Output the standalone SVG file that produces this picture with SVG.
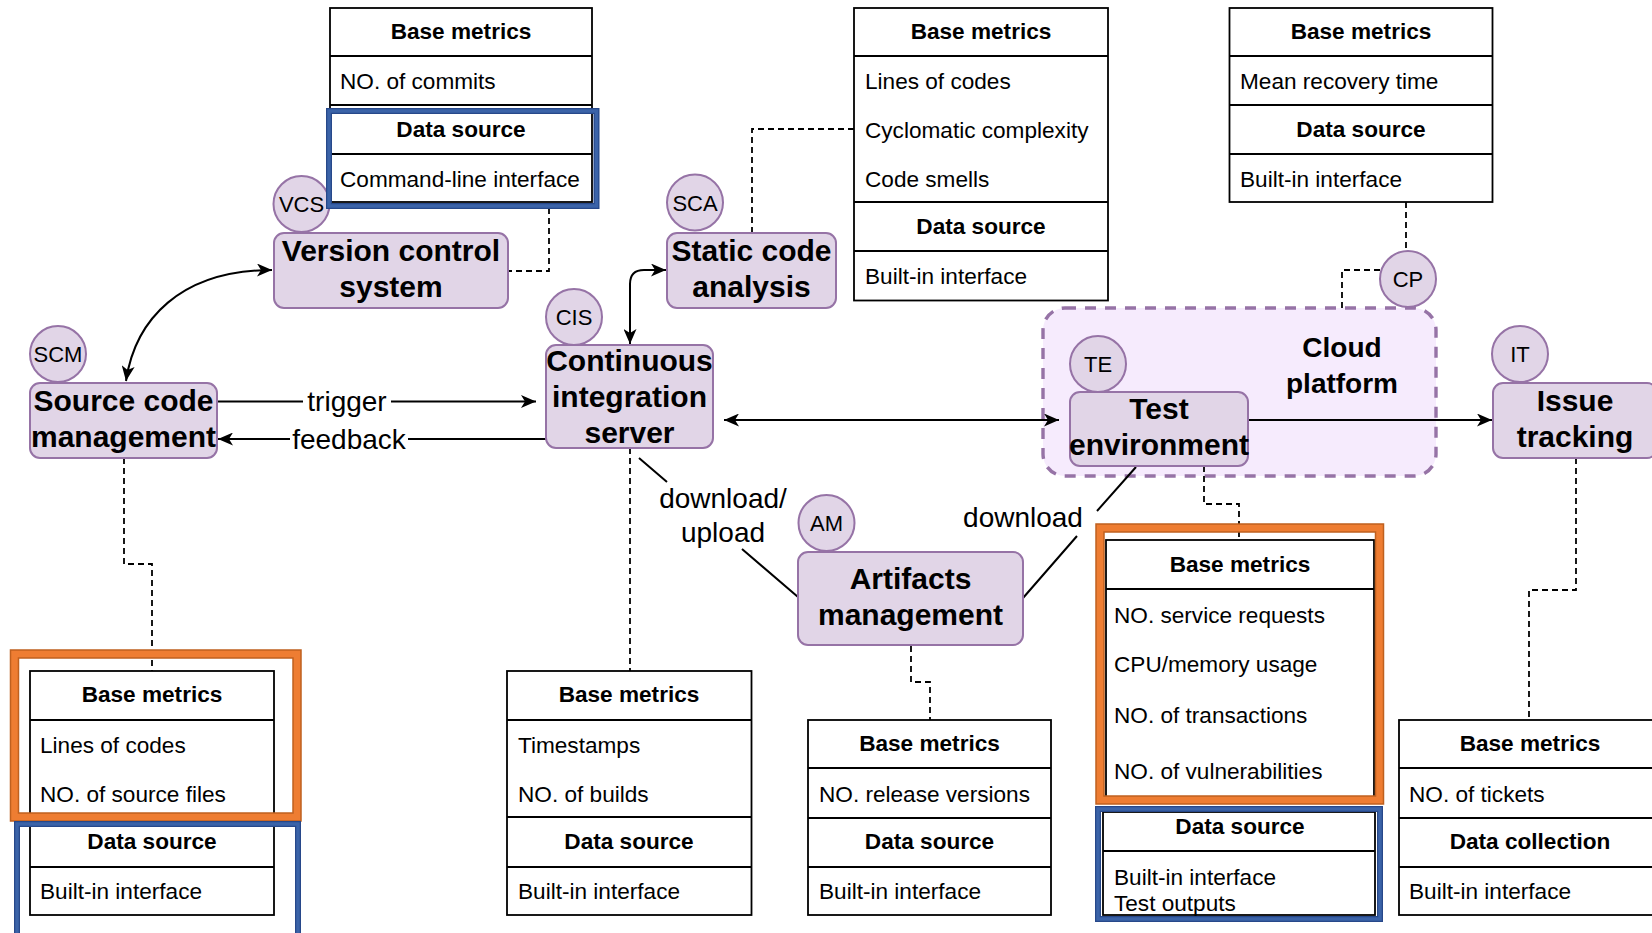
<svg xmlns="http://www.w3.org/2000/svg" width="1652" height="933" viewBox="0 0 1652 933">
  <defs>
    <style>
      text { font-family: "Liberation Sans", Arial, Helvetica, sans-serif; fill: #000; }
      .node { fill: #e1d5e7; stroke: #9673a6; stroke-width: 2; }
      .tag { fill: #e1d5e7; stroke: #9673a6; stroke-width: 2; }
      .lbl { font-size: 30px; font-weight: bold; text-anchor: middle; }
      .tagt { font-size: 22px; text-anchor: middle; }
      .tbl { fill: #fff; stroke: #000; stroke-width: 1.8; }
      .sep { stroke: #000; stroke-width: 1.8; }
      .th { font-size: 22.6px; font-weight: bold; text-anchor: middle; }
      .td { font-size: 22.6px; }
      .edge { fill: none; stroke: #000; stroke-width: 2; }
      .dash { fill: none; stroke: #000; stroke-width: 1.8; stroke-dasharray: 6 4; }
      .elbl { font-size: 28px; text-anchor: middle; }
      .org-o { fill: none; stroke: #bf601f; stroke-width: 9.5; }
      .org-i { fill: none; stroke: #ee7d32; stroke-width: 6.5; }
      .blu-o { fill: none; stroke: #27488a; stroke-width: 6; }
      .blu-i { fill: none; stroke: #3b63a8; stroke-width: 3.5; }
    </style>
    <marker id="arrow" viewBox="0 0 15 13" refX="15" refY="6.5" markerWidth="15" markerHeight="13" markerUnits="userSpaceOnUse" orient="auto-start-reverse">
      <path d="M0,0 L15,6.5 L0,13 L4,6.5 Z" fill="#000"/>
    </marker>
  </defs>

  <rect width="1652" height="933" fill="#fff"/>

  <!-- Cloud platform container -->
  <g id="cloud-platform">
    <rect x="1043" y="308" width="393" height="168" rx="22" fill="#f6ebfd" stroke="#9673a6" stroke-width="3.4" stroke-dasharray="11 9"/>
    <text class="lbl" x="1342" y="357" style="font-size:28px">Cloud</text>
    <text class="lbl" x="1342" y="393" style="font-size:28px">platform</text>
  </g>

  <!-- Connectors -->
  <g id="connectors">
    <path class="edge" d="M126 381 C135 320 180 270 272 270" marker-start="url(#arrow)" marker-end="url(#arrow)"/>
    <path class="edge" d="M630 344 V284 Q630 270 644 270 H666" marker-start="url(#arrow)" marker-end="url(#arrow)"/>
    <path class="edge" d="M217 401.5 H536" marker-end="url(#arrow)"/>
    <rect x="303" y="388" width="88" height="28" fill="#fff"/>
    <text class="elbl" x="347" y="411">trigger</text>
    <path class="edge" d="M546 439 H218" marker-end="url(#arrow)"/>
    <rect x="290" y="425" width="118" height="29" fill="#fff"/>
    <text class="elbl" x="349" y="449">feedback</text>
    <path class="edge" d="M724 420 H1059" marker-start="url(#arrow)" marker-end="url(#arrow)"/>
    <path class="edge" d="M1248 420 H1492" marker-end="url(#arrow)"/>
    <path class="edge" d="M639 458 L667 482 M742 549 L798 597"/>
    <text class="elbl" x="723" y="508">download/</text>
    <text class="elbl" x="723" y="542">upload</text>
    <path class="edge" d="M1136 467 L1097 511 M1077 536 L1023 598"/>
    <text class="elbl" x="1023" y="527">download</text>

    <path class="dash" d="M549 208 V271 H508"/>
    <path class="dash" d="M752 233 V129 H854"/>
    <path class="dash" d="M1406 202 V251"/>
    <path class="dash" d="M1380 270 H1342 V308"/>
    <path class="dash" d="M124 458 V564 H152 V671"/>
    <path class="dash" d="M630 448 V671"/>
    <path class="dash" d="M911 646 V682 H930 V720"/>
    <path class="dash" d="M1204 466 V504 H1239 V540"/>
    <path class="dash" d="M1576 458 V590 H1529 V720"/>
  </g>

  <!-- Version control system -->
  <g id="vcs">
    <rect class="node" x="274" y="233" width="234" height="75" rx="10"/>
    <text class="lbl" x="391" y="260.5">Version control</text>
    <text class="lbl" x="391" y="296.5">system</text>
    <circle class="tag" cx="301.5" cy="204" r="28"/>
    <text class="tagt" x="301.5" y="212">VCS</text>
  </g>
  <g id="vcs-metrics">
    <rect class="tbl" x="330" y="8" width="262" height="194"/>
    <line class="sep" x1="330" y1="56" x2="592" y2="56"/>
    <line class="sep" x1="330" y1="105" x2="592" y2="105"/>
    <line class="sep" x1="330" y1="154" x2="592" y2="154"/>
    <text class="th" x="461" y="39">Base metrics</text>
    <text class="td" x="340" y="89">NO. of commits</text>
    <text class="th" x="461" y="137">Data source</text>
    <text class="td" x="340" y="187">Command-line interface</text>
    <rect class="blu-o" x="329" y="111" width="267.5" height="95"/>
    <rect class="blu-i" x="329" y="111" width="267.5" height="95"/>
  </g>

  <!-- Source code management -->
  <g id="scm">
    <rect class="node" x="30" y="383" width="187" height="75" rx="10"/>
    <text class="lbl" x="123.5" y="410.5">Source code</text>
    <text class="lbl" x="123.5" y="446.5">management</text>
    <circle class="tag" cx="58" cy="354" r="28"/>
    <text class="tagt" x="58" y="362">SCM</text>
  </g>
  <g id="scm-metrics">
    <rect class="tbl" x="30" y="671" width="244" height="244"/>
    <line class="sep" x1="30" y1="720" x2="274" y2="720"/>
    <line class="sep" x1="30" y1="817" x2="274" y2="817"/>
    <line class="sep" x1="30" y1="867" x2="274" y2="867"/>
    <text class="th" x="152" y="702">Base metrics</text>
    <text class="td" x="40" y="752.5">Lines of codes</text>
    <text class="td" x="40" y="801.5">NO. of source files</text>
    <text class="th" x="152" y="849">Data source</text>
    <text class="td" x="40" y="899">Built-in interface</text>
    <rect class="org-o" x="14.5" y="654" width="282.5" height="163"/>
    <rect class="org-i" x="14.5" y="654" width="282.5" height="163"/>
    <rect class="blu-o" x="17" y="824" width="281" height="130"/>
    <rect class="blu-i" x="17" y="824" width="281" height="130"/>
  </g>

  <!-- Continuous integration server -->
  <g id="cis">
    <rect class="node" x="546" y="345" width="167" height="103" rx="10"/>
    <text class="lbl" x="629.5" y="370.5">Continuous</text>
    <text class="lbl" x="629.5" y="406.5">integration</text>
    <text class="lbl" x="629.5" y="442.5">server</text>
    <circle class="tag" cx="574" cy="317" r="28"/>
    <text class="tagt" x="574" y="325">CIS</text>
  </g>
  <g id="cis-metrics">
    <rect class="tbl" x="507" y="671" width="244.5" height="244"/>
    <line class="sep" x1="507" y1="720" x2="751.5" y2="720"/>
    <line class="sep" x1="507" y1="817" x2="751.5" y2="817"/>
    <line class="sep" x1="507" y1="867" x2="751.5" y2="867"/>
    <text class="th" x="629" y="702">Base metrics</text>
    <text class="td" x="518" y="752.5">Timestamps</text>
    <text class="td" x="518" y="801.5">NO. of builds</text>
    <text class="th" x="629" y="849">Data source</text>
    <text class="td" x="518" y="899">Built-in interface</text>
  </g>

  <!-- Static code analysis -->
  <g id="sca">
    <rect class="node" x="667" y="233" width="169" height="75" rx="10"/>
    <text class="lbl" x="751.5" y="260.5">Static code</text>
    <text class="lbl" x="751.5" y="296.5">analysis</text>
    <circle class="tag" cx="695" cy="202.5" r="28"/>
    <text class="tagt" x="695" y="210.5">SCA</text>
  </g>
  <g id="sca-metrics">
    <rect class="tbl" x="854" y="8" width="254" height="292.5"/>
    <line class="sep" x1="854" y1="56" x2="1108" y2="56"/>
    <line class="sep" x1="854" y1="202" x2="1108" y2="202"/>
    <line class="sep" x1="854" y1="251" x2="1108" y2="251"/>
    <text class="th" x="981" y="39">Base metrics</text>
    <text class="td" x="865" y="89">Lines of codes</text>
    <text class="td" x="865" y="137.5">Cyclomatic complexity</text>
    <text class="td" x="865" y="186.5">Code smells</text>
    <text class="th" x="981" y="234">Data source</text>
    <text class="td" x="865" y="284">Built-in interface</text>
  </g>

  <!-- Cloud platform tag and metrics -->
  <g id="cp">
    <circle class="tag" cx="1408" cy="279" r="28"/>
    <text class="tagt" x="1408" y="287">CP</text>
  </g>
  <g id="cp-metrics">
    <rect class="tbl" x="1229.5" y="8" width="263" height="194"/>
    <line class="sep" x1="1229.5" y1="56" x2="1492.5" y2="56"/>
    <line class="sep" x1="1229.5" y1="105" x2="1492.5" y2="105"/>
    <line class="sep" x1="1229.5" y1="154" x2="1492.5" y2="154"/>
    <text class="th" x="1361" y="39">Base metrics</text>
    <text class="td" x="1240" y="89">Mean recovery time</text>
    <text class="th" x="1361" y="137">Data source</text>
    <text class="td" x="1240" y="187">Built-in interface</text>
  </g>

  <!-- Test environment -->
  <g id="te">
    <rect class="node" x="1070" y="392" width="178" height="74" rx="10"/>
    <text class="lbl" x="1159" y="419">Test</text>
    <text class="lbl" x="1159" y="455">environment</text>
    <circle class="tag" cx="1098" cy="364" r="28"/>
    <text class="tagt" x="1098" y="372">TE</text>
  </g>
  <g id="te-metrics">
    <rect class="tbl" x="1106" y="540" width="268" height="257"/>
    <line class="sep" x1="1106" y1="589" x2="1374" y2="589"/>
    <text class="th" x="1240" y="572">Base metrics</text>
    <text class="td" x="1114" y="622.5">NO. service requests</text>
    <text class="td" x="1114" y="671.5">CPU/memory usage</text>
    <text class="td" x="1114" y="723">NO. of transactions</text>
    <text class="td" x="1114" y="779">NO. of vulnerabilities</text>
    <rect class="tbl" x="1103" y="812" width="272" height="103"/>
    <line class="sep" x1="1103" y1="851" x2="1375" y2="851"/>
    <text class="th" x="1240" y="834">Data source</text>
    <text class="td" x="1114" y="885">Built-in interface</text>
    <text class="td" x="1114" y="910.5">Test outputs</text>
    <rect class="org-o" x="1100" y="528" width="279.5" height="272"/>
    <rect class="org-i" x="1100" y="528" width="279.5" height="272"/>
    <rect class="blu-o" x="1098" y="809" width="282" height="110"/>
    <rect class="blu-i" x="1098" y="809" width="282" height="110"/>
  </g>

  <!-- Issue tracking -->
  <g id="it">
    <rect class="node" x="1493" y="383" width="164" height="75" rx="10"/>
    <text class="lbl" x="1575" y="410.5">Issue</text>
    <text class="lbl" x="1575" y="446.5">tracking</text>
    <circle class="tag" cx="1520" cy="354" r="28"/>
    <text class="tagt" x="1520" y="362">IT</text>
  </g>
  <g id="it-metrics">
    <rect class="tbl" x="1399" y="720" width="262" height="195"/>
    <line class="sep" x1="1399" y1="768" x2="1661" y2="768"/>
    <line class="sep" x1="1399" y1="818" x2="1661" y2="818"/>
    <line class="sep" x1="1399" y1="867" x2="1661" y2="867"/>
    <text class="th" x="1530" y="751">Base metrics</text>
    <text class="td" x="1409" y="801.5">NO. of tickets</text>
    <text class="th" x="1530" y="849">Data collection</text>
    <text class="td" x="1409" y="899">Built-in interface</text>
  </g>

  <!-- Artifacts management -->
  <g id="am">
    <rect class="node" x="798" y="552" width="225" height="93" rx="10"/>
    <text class="lbl" x="910.5" y="588.5">Artifacts</text>
    <text class="lbl" x="910.5" y="624.5">management</text>
    <circle class="tag" cx="826.5" cy="523" r="28"/>
    <text class="tagt" x="826.5" y="531">AM</text>
  </g>
  <g id="am-metrics">
    <rect class="tbl" x="808" y="720" width="243" height="195"/>
    <line class="sep" x1="808" y1="768" x2="1051" y2="768"/>
    <line class="sep" x1="808" y1="818" x2="1051" y2="818"/>
    <line class="sep" x1="808" y1="867" x2="1051" y2="867"/>
    <text class="th" x="929.5" y="751">Base metrics</text>
    <text class="td" x="819" y="801.5">NO. release versions</text>
    <text class="th" x="929.5" y="849">Data source</text>
    <text class="td" x="819" y="899">Built-in interface</text>
  </g>
</svg>
